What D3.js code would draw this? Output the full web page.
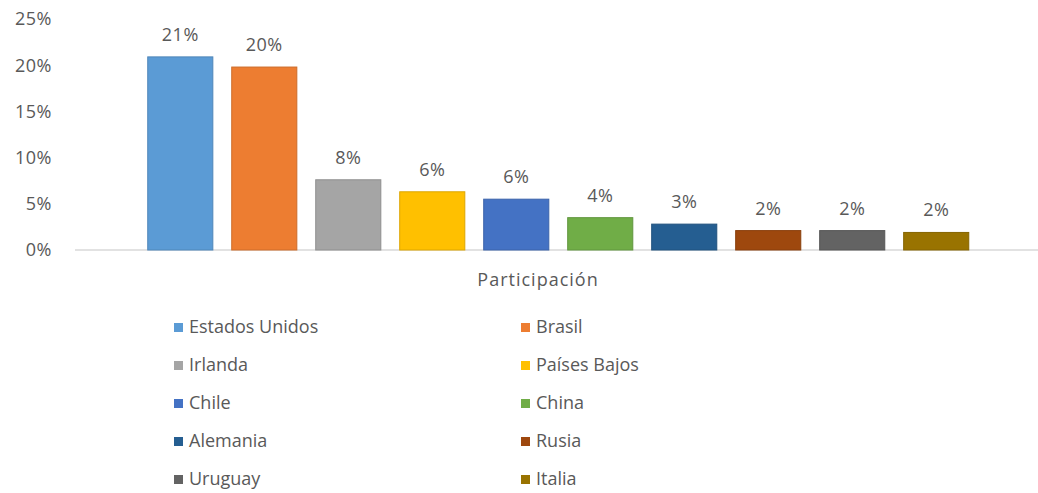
<!DOCTYPE html>
<html>
<head>
<meta charset="utf-8">
<script src="https://d3js.org/d3.v7.min.js"></script>
<style>
  body { margin: 0; background: #fff; }
  text { font-family: "Open Sans", "Liberation Sans", sans-serif; fill: #595959; }
</style>
</head>
<body>
<script>
// data
const countries = ["Estados Unidos", "Brasil", "Irlanda", "Países Bajos", "Chile",
                   "China", "Alemania", "Rusia", "Uruguay", "Italia"];
const shares = [0.209, 0.198, 0.076, 0.063, 0.055, 0.035, 0.028, 0.021, 0.021, 0.019];
const labels = ["21%", "20%", "8%", "6%", "6%", "4%", "3%", "2%", "2%", "2%"];
const colors = ["#5B9BD5", "#ED7D31", "#A5A5A5", "#FFC000", "#4472C4",
                "#70AD47", "#255E91", "#9E480E", "#636363", "#997300"];
const yTicks = [0, 0.05, 0.10, 0.15, 0.20, 0.25];
const category = "Participación";

const W = 1038, H = 493;
const svg = d3.select("body").append("svg").attr("width", W).attr("height", H);

// y scale: 0% at the baseline, 25% near the top
const y = d3.scaleLinear().domain([0, 0.25]).range([250, 19]);
// bars sit in one category cluster
const x = d3.scaleBand().domain(countries).range([138.5, 978]).paddingInner(0.225).paddingOuter(0.11);

// y tick labels (no axis line, Excel style)
svg.append("g").selectAll("text")
  .data(yTicks).enter().append("text")
  .attr("x", 52)
  .attr("y", d => y(d))
  .attr("dy", "0.35em")
  .attr("text-anchor", "end")
  .style("font-size", "18px")
  .style("letter-spacing", "0.5px")
  .text(d => d3.format(".0%")(d));

// baseline
svg.append("line")
  .attr("x1", 75).attr("x2", W)
  .attr("y1", y(0)).attr("y2", y(0))
  .style("stroke", "#d9d9d9").style("stroke-width", 1.5);

// bars
svg.selectAll(".bar")
  .data(countries).enter().append("rect")
  .attr("class", "bar")
  .attr("x", d => x(d))
  .attr("y", (d, i) => y(shares[i]))
  .attr("width", x.bandwidth())
  .attr("height", (d, i) => y(0) - y(shares[i]))
  .style("fill", (d, i) => colors[i])
  .style("stroke", (d, i) => d3.color(colors[i]).darker(0.4))
  .style("stroke-width", 1);

// value labels
svg.selectAll(".lbl")
  .data(countries).enter().append("text")
  .attr("class", "lbl")
  .attr("x", d => x(d) + x.bandwidth() / 2)
  .attr("y", (d, i) => y(shares[i]) - 16)
  .attr("text-anchor", "middle")
  .style("font-size", "18px")
  .style("letter-spacing", "0.5px")
  .text((d, i) => labels[i]);

// category label
svg.append("text")
  .attr("x", 538).attr("y", 286)
  .attr("text-anchor", "middle")
  .style("font-size", "18px")
  .style("letter-spacing", "1px")
  .text(category);

// legend in two columns
const legend = svg.append("g").selectAll("g")
  .data(countries).enter().append("g")
  .attr("transform", (d, i) => "translate(" + (i % 2 === 0 ? 174 : 521) + "," + (327 + Math.floor(i / 2) * 38) + ")");

legend.append("rect")
  .attr("x", 0).attr("y", -4)
  .attr("width", 9).attr("height", 9)
  .style("fill", (d, i) => colors[i]);

legend.append("text")
  .attr("x", 15).attr("y", 0)
  .attr("dy", "0.35em")
  .style("font-size", "18px")
  .text(d => d);
</script>
</body>
</html>
